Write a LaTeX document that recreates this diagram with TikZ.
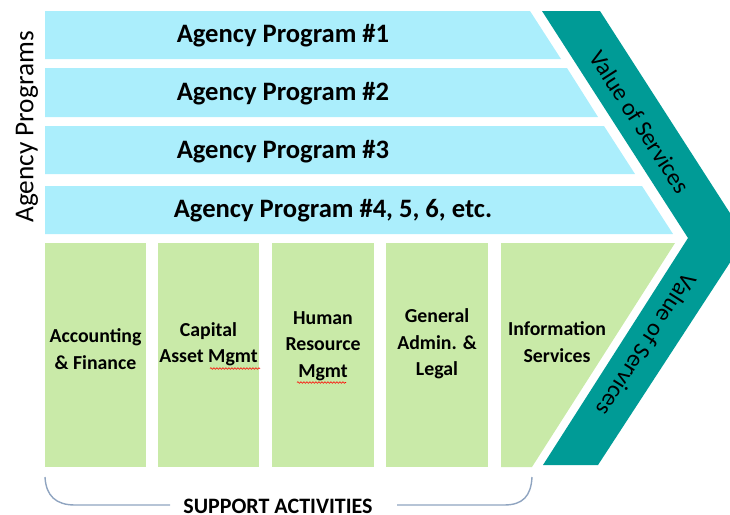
\documentclass[tikz,border=0pt]{standalone}
\usepackage{fontspec}
\setmainfont{Carlito}
\usetikzlibrary{decorations.pathmorphing}
\definecolor{barblue}{HTML}{ABEEFC}
\definecolor{boxgreen}{HTML}{C9EAA8}
\definecolor{teal2}{HTML}{009B96}
\definecolor{bracket}{HTML}{8FA4C0}
\tikzset{
  bartext/.style={anchor=base, font=\fontsize{26.6}{30}\selectfont\bfseries, inner sep=0pt},
  boxtext/.style={align=center, font=\fontsize{19.8}{26.5}\selectfont\bfseries, inner sep=0pt},
  bluebar/.style={fill=barblue, draw=none},
  greenbox/.style={fill=boxgreen, draw=none},
  vostext/.style={font=\fontsize{24}{28}\selectfont, inner sep=0pt},
  squiggle/.style={draw=red, line width=0.6pt, decorate, decoration={snake, amplitude=0.8pt, segment length=3pt}},
}
\begin{document}
\begin{tikzpicture}[x=1pt,y=-1pt]
\useasboundingbox (0,0) rectangle (730,514);
\clip (0,0) rectangle (730,514);
% blue bars: right edge x = 530 + 0.643*(y-11)
\fill[bluebar] (45,11) -- (530,11) -- (561,59) -- (45,59) -- cycle;
\fill[bluebar] (45,68) -- (567,68) -- (598,117) -- (45,117) -- cycle;
\fill[bluebar] (45,126) -- (604,126) -- (635,174) -- (45,174) -- cycle;
\fill[bluebar] (45,186) -- (642,186) -- (673,234) -- (45,234) -- cycle;
\node[bartext] (p1) at (283,42) {Agency Program \#1};
\node[bartext] (p2) at (283,100) {Agency Program \#2};
\node[bartext] (p3) at (283,158) {Agency Program \#3};
\node[bartext] (p4) at (333,217) {Agency Program \#4, 5, 6, etc.};
% green boxes
\fill[greenbox] (45,243) rectangle (146,467);
\fill[greenbox] (158,243) rectangle (259,467);
\fill[greenbox] (272,243) rectangle (374,467);
\fill[greenbox] (386,243) rectangle (488,467);
\fill[greenbox] (501,243) -- (675,243) -- (532,467) -- (501,467) -- cycle;
\node[boxtext] (b1) at (95.5,349) {Accounting\\\& Finance};
\node[boxtext] (b2) at (208.5,344) {Capital\\Asset Mgmt};
\node[boxtext] (b3) at (323,346) {Human\\Resource\\Mgmt};
\node[boxtext] (b4) at (437,344) {General\\Admin. \&\\Legal};
\node[boxtext] (b5) at (557,342) {Information\\Services};
\draw[squiggle] (210,368.5) -- (260,368.5);
\draw[squiggle] (297,382.5) -- (346,382.5);
% teal chevron
\fill[teal2] (542,11) -- (600,11) -- (746,238) -- (598,465) -- (543,465) -- (688,238) -- cycle;
\node[vostext, rotate=-57.3] (v1) at (640,122) {Value of Services};
\node[vostext, rotate=-122.7] (v2) at (647,345) {Value of Services};
% left label
\node[font=\fontsize{27.3}{30}\selectfont, rotate=90, inner sep=0pt] (ap) at (27,127) {Agency Programs};
% bracket
\node[font=\fontsize{22}{24}\selectfont\bfseries, inner sep=0pt, anchor=base] (sa) at (278,513) {SUPPORT ACTIVITIES};
\coordinate (bl) at (45,477);
\coordinate (br) at (532,477);
\draw[bracket, line width=1.4pt] (bl) .. controls (46,496) and (56,505) .. (75,505) -- (170,505);
\draw[bracket, line width=1.4pt] (397,505) -- (504,505) .. controls (523,505) and (531,496) .. (br);
\end{tikzpicture}
\end{document}
